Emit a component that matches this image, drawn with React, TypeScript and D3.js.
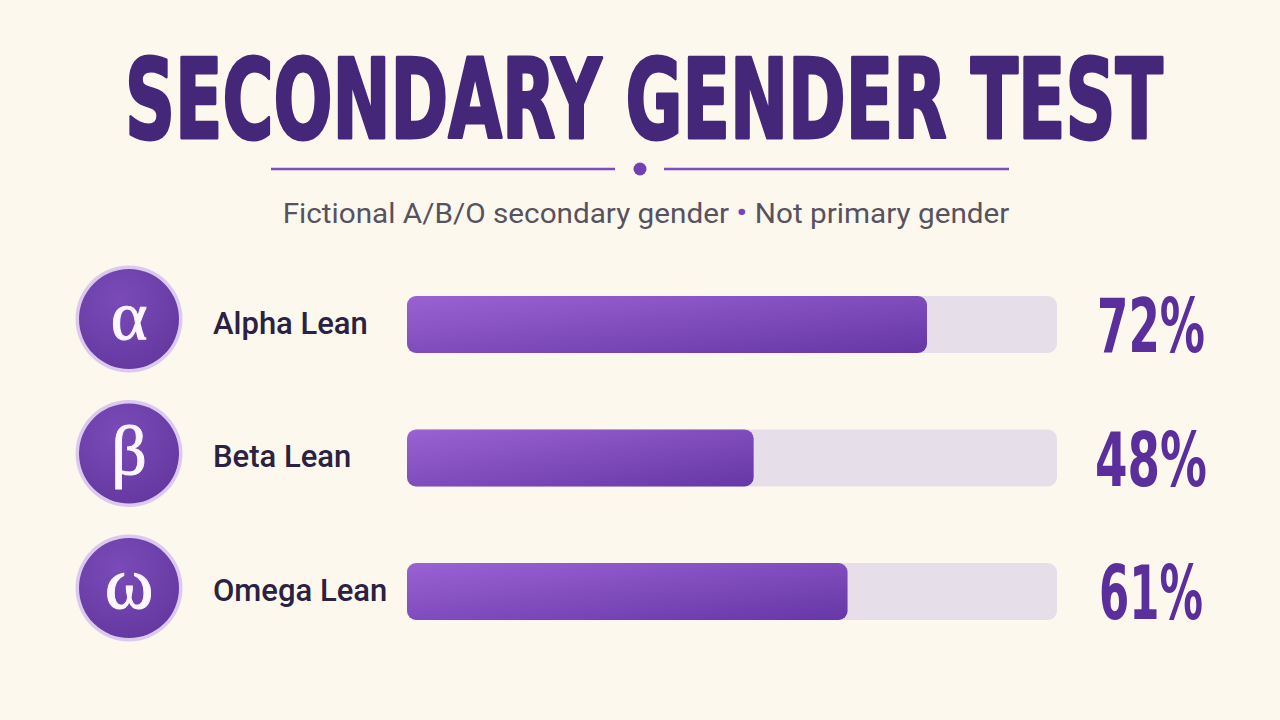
import React, { useLayoutEffect, useRef } from "react";
import * as d3 from "d3";

const categories = ["Alpha Lean", "Beta Lean", "Omega Lean"];
const symbols = ["α", "β", "ω"];
const values = [72, 48, 61];
const valueWidths = [108, 112, 104];
const title = "SECONDARY GENDER TEST";
const subtitleParts = ["Fictional A/B/O secondary gender", "•", "Not primary gender"];

const W = 1280;
const H = 720;

function FitText({ x, y, width, children, ...rest }: any) {
  const ref = useRef<SVGTextElement>(null);
  useLayoutEffect(() => {
    const el = ref.current;
    if (!el) return;
    el.removeAttribute("transform");
    const len = el.getComputedTextLength();
    const s = len > 0 ? width / len : 1;
    el.setAttribute("transform", `translate(${x},${y}) scale(${s},1)`);
  }, [x, y, width]);
  return (
    <text ref={ref} x={0} y={0} textAnchor="middle" transform={`translate(${x},${y})`} {...rest}>
      {children}
    </text>
  );
}

export default function App() {
  const y = d3.scalePoint<string>().domain(categories).range([324.5, 591.5]);
  const x = d3.scaleLinear().domain([0, 90]).range([407, 1057]);
  const bh = 57;
  return (
    <svg width={W} height={H} style={{ position: "absolute", left: 0, top: 0, display: "block" }}>
      <defs>
        <linearGradient id="barg" x1="0" y1="0" x2="1" y2="1">
          <stop offset="0" stopColor="#9a62d3" />
          <stop offset="1" stopColor="#6637a6" />
        </linearGradient>
        <radialGradient id="circg" cx="0.4" cy="0.3" r="0.8">
          <stop offset="0" stopColor="#7a4bb8" />
          <stop offset="1" stopColor="#63379e" />
        </radialGradient>
      </defs>
      <rect width={W} height={H} fill="#fdf8ee" />
      <FitText
        x={644}
        y={138}
        width={1038}
        fontFamily="'Liberation Sans Narrow', 'DejaVu Sans Condensed', Roboto, sans-serif"
        fontWeight={700}
        fontSize={110}
        fill="#45277a"
        stroke="#45277a"
        strokeWidth={3}
        strokeLinejoin="round"
      >
        {title}
      </FitText>
      <line x1={271} x2={615} y1={169} y2={169} stroke="#7d4cbc" strokeWidth={2.5} />
      <line x1={664} x2={1009} y1={169} y2={169} stroke="#7d4cbc" strokeWidth={2.5} />
      <circle cx={640} cy={169} r={6.5} fill="#7140b3" />
      <FitText x={646} y={223} width={727} fontFamily="Roboto, sans-serif" fontSize={27} fill="#57525f">
        <tspan>{subtitleParts[0]} </tspan>
        <tspan fill="#7444b4" fontSize={30}>{subtitleParts[1]}</tspan>
        <tspan> {subtitleParts[2]}</tspan>
      </FitText>
      {categories.map((c, i) => {
        const yc = y(c) as number;
        const cy = yc - 5.5 + i;
        return (
          <g key={c}>
            <circle cx={129} cy={cy} r={53.5} fill="#dcc9ef" />
            <circle cx={129} cy={cy} r={50} fill="url(#circg)" />
            <text
              x={129}
              y={cy + 20}
              textAnchor="middle"
              fontFamily="'Liberation Serif', 'DejaVu Serif', serif"
              fontSize={i === 2 ? 74 : 70}
              fill="#fbf6ff"
              stroke="#fbf6ff"
              strokeWidth={1}
            >
              {symbols[i]}
            </text>
            <text x={213} y={yc + 9} fontFamily="Roboto, sans-serif" fontWeight={500} fontSize={31} fill="#2b2140">
              {c}
            </text>
            <rect x={x(0)} y={yc - bh / 2} width={x(90) - x(0)} height={bh} rx={9} fill="#e6dfea" />
            <rect x={x(0)} y={yc - bh / 2} width={x(values[i]) - x(0)} height={bh} rx={9} fill="url(#barg)" />
            <FitText
              x={1151}
              y={yc + 27.5}
              width={valueWidths[i]}
              fontFamily="'Liberation Sans Narrow', 'DejaVu Sans Condensed', Roboto, sans-serif"
              fontWeight={700}
              fontSize={75}
              fill="#5a2f9c"
            >
              {values[i]}%
            </FitText>
          </g>
        );
      })}
    </svg>
  );
}
